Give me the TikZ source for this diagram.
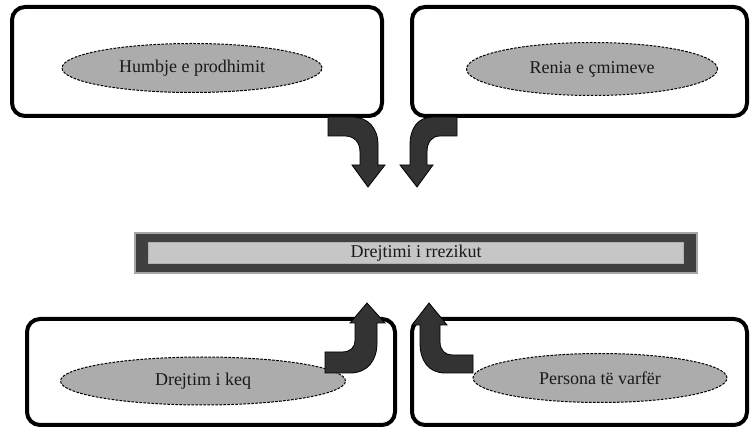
\documentclass[tikz,border=0pt]{standalone}
\usepackage{fontspec}
\setmainfont{Liberation Serif}
\usetikzlibrary{shapes.geometric}
\begin{document}
\begin{tikzpicture}[x=1pt,y=-1pt,
  framebox/.style={draw=black,line width=4pt,rounded corners=13pt,fill=white,inner sep=0pt},
  oval/.style={ellipse,draw=black,dashed,line width=1pt,dash pattern=on 2.6pt off 1.4pt,fill=gray!65,inner sep=0pt,font=\fontsize{18}{21}\selectfont,text=black!90},
  blockarrow/.style={fill=black!80,draw=black,line width=0.8pt,line join=miter},
  barouter/.style={draw=gray!70,fill=black!75,line width=1.5pt},
  barinner/.style={draw=gray!60,fill=gray!45,line width=0.8pt}]
\useasboundingbox (0,0) rectangle (750,427);
% frames
\node[framebox,minimum width=370pt,minimum height=109pt] (b1) at (197,61.5) {};
\node[framebox,minimum width=335pt,minimum height=109pt] (b2) at (579.5,61.5) {};
\node[framebox,minimum width=368pt,minimum height=106pt] (b3) at (211,372) {};
\node[framebox,minimum width=335pt,minimum height=106pt] (b4) at (579.5,372) {};
% ovals
\node[oval,minimum width=260pt,minimum height=49pt] (e1) at (192,68) {Humbje e prodhimit};
\node[oval,minimum width=251pt,minimum height=53pt] (e2) at (592,69) {Renia e çmimeve};
\node[oval,minimum width=285pt,minimum height=48pt] (e3) at (203,381) {Drejtim i keq};
\node[oval,minimum width=254pt,minimum height=49pt] (e4) at (600,378) {Persona të varfër};
% central bar
\node[barouter,minimum width=562pt,minimum height=40pt,inner sep=0pt] (bar) at (416,253) {};
\node[barinner,minimum width=535pt,minimum height=21pt,inner sep=0pt] (barin) at (415.5,252.5) {};
\node[font=\fontsize{18}{21}\selectfont,text=black!90] (risk) at (416,253) {Drejtimi i rrezikut};
% block arrows
\draw[blockarrow] (328,117) -- (352,117) .. controls (368,117) and (378,128) .. (378,145)
  -- (378,165) -- (385,165) -- (368,187) -- (352,165) -- (360,165) -- (360,152)
  .. controls (360,142) and (354,136) .. (345,136) -- (328,136) -- cycle;
\draw[blockarrow] (457,117) -- (433,117) .. controls (418,117) and (410,128) .. (410,145)
  -- (410,165) -- (400,165) -- (417,187) -- (433,165) -- (427,165) -- (427,152)
  .. controls (427,142) and (432,136) .. (440,136) -- (457,136) -- cycle;
\draw[blockarrow] (325,373) -- (350,373) .. controls (368,373) and (377,360) .. (377,343)
  -- (377,323) -- (385,323) -- (367,303) -- (350,323) -- (355,323) -- (355,340)
  .. controls (355,348) and (350,352) .. (342,352) -- (325,352) -- cycle;
\draw[blockarrow] (473,373) -- (445,373) .. controls (428,373) and (420,360) .. (420,343)
  -- (420,325) -- (412,325) -- (429,303) -- (447,325) -- (440,325) -- (440,342)
  .. controls (440,350) and (445,355) .. (452,355) -- (473,355) -- cycle;
\end{tikzpicture}
\end{document}
